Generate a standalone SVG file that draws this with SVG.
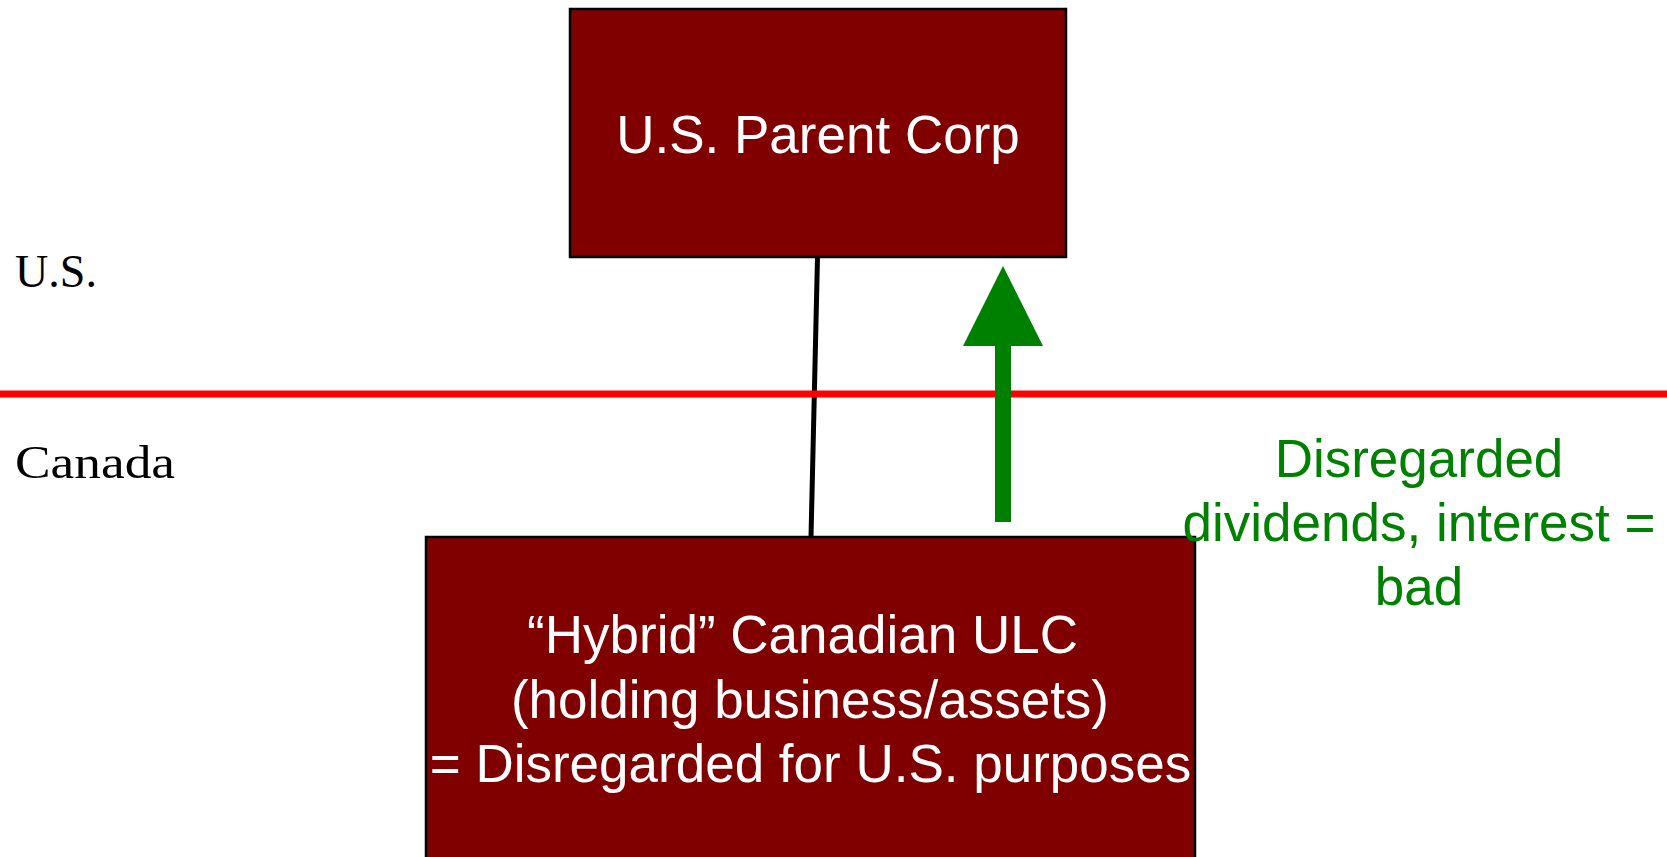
<svg xmlns="http://www.w3.org/2000/svg" width="1667" height="857" viewBox="0 0 1667 857">
  <style>
    .entity { fill: #800000; stroke: #000000; stroke-width: 2.5; }
    .entity-text { font-family: "Liberation Sans", Arial, sans-serif; font-size: 53px; fill: #ffffff; text-anchor: middle; }
    .country { font-family: "Liberation Serif", "Times New Roman", serif; font-size: 47px; fill: #000000; }
    .flow-note { font-family: "Liberation Sans", Arial, sans-serif; font-size: 53px; fill: #008000; text-anchor: middle; }
    .ownership { stroke: #000000; stroke-width: 5; fill: none; }
    .border { stroke: #ff0000; stroke-width: 7; }
    .flow { fill: #008000; }
  </style>
  <rect width="1667" height="857" fill="#ffffff"/>

  <!-- jurisdiction labels -->
  <g id="labels">
    <text class="country" x="15" y="287" textLength="82" lengthAdjust="spacingAndGlyphs">U.S.</text>
    <text class="country" x="15" y="478" textLength="160" lengthAdjust="spacingAndGlyphs">Canada</text>
  </g>

  <!-- connectors: ownership line and payment flow -->
  <g id="connectors">
    <line class="ownership" x1="817.5" y1="257" x2="811" y2="537"/>
    <line class="border" x1="0" y1="394" x2="1667" y2="394"/>
    <path class="flow" d="M1003 266 L1043 346 L1011 346 L1011 522 L995 522 L995 346 L963 346 Z"/>
  </g>

  <g id="us-parent">
    <rect class="entity" x="570" y="9" width="496" height="248"/>
    <text class="entity-text" x="818" y="153">U.S. Parent Corp</text>
  </g>

  <g id="canadian-ulc">
    <rect class="entity" x="426" y="537" width="769" height="340"/>
    <text class="entity-text" x="802.5" y="653">“Hybrid” Canadian ULC</text>
    <text class="entity-text" x="810" y="718">(holding business/assets)</text>
    <text class="entity-text" x="810.5" y="782">= Disregarded for U.S. purposes</text>
  </g>

  <g id="flow-label">
    <text class="flow-note" x="1419" y="477">Disregarded</text>
    <text class="flow-note" x="1419" y="541">dividends, interest =</text>
    <text class="flow-note" x="1419" y="605">bad</text>
  </g>
</svg>
